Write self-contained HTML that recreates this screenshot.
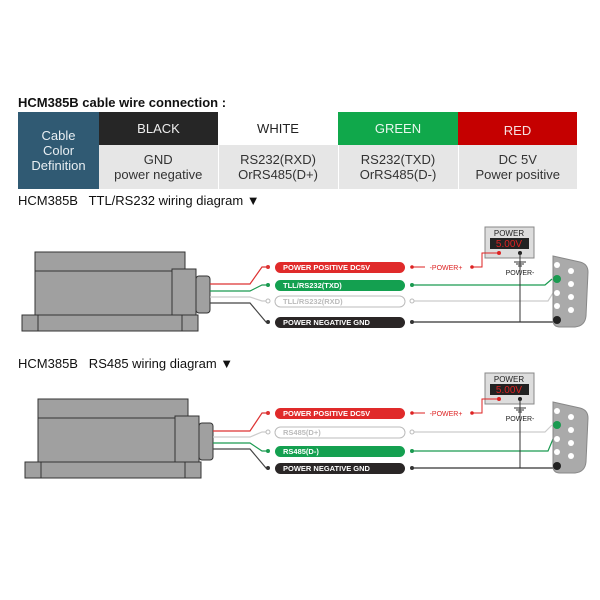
<!DOCTYPE html>
<html><head><meta charset="utf-8"><style>
body{margin:0;width:600px;height:600px;background:#fff;font-family:"Liberation Sans",Arial,sans-serif;position:relative;overflow:hidden}
.t{position:absolute;left:18px;font-size:13px;color:#111}
table{position:absolute;left:18px;top:112px;border-collapse:collapse;width:559px;font-size:13px;text-align:center}
td{padding:0;color:#333;line-height:15px}
</style></head><body>
<div class="t" style="top:95px;font-weight:bold">HCM385B cable wire connection :</div>
<table>
<tr style="height:33px">
<td rowspan="2" style="background:#305a73;color:#e8eef2;width:81px">Cable<br>Color<br>Definition</td>
<td style="background:#262626;color:#eee;width:119px">BLACK</td>
<td style="background:#fff;color:#222;width:120px">WHITE</td>
<td style="background:#10a84b;color:#e9f7ee;width:120px">GREEN</td>
<td style="background:#c50000;color:#f6e0e0;width:119px;padding-top:4px">RED</td></tr>
<tr style="height:44px;background:#e6e6e6">
<td style="border-right:1px solid #fff">GND<br>power negative</td>
<td style="border-right:1px solid #fff">RS232(RXD)<br>OrRS485(D+)</td>
<td style="border-right:1px solid #fff">RS232(TXD)<br>OrRS485(D-)</td>
<td>DC 5V<br>Power positive</td></tr>
</table>
<div class="t" style="top:193px">HCM385B&nbsp;&nbsp; TTL/RS232 wiring diagram ▼</div>
<div class="t" style="top:356px">HCM385B&nbsp;&nbsp; RS485 wiring diagram ▼</div>
<svg width="600" height="600" style="position:absolute;left:0;top:0" font-family="Liberation Sans,Arial,sans-serif">
<defs>
<g id="dev" stroke="#333" stroke-width="1" fill="#a0a0a0">
<rect x="35" y="252" width="150" height="19"/>
<rect x="35" y="271" width="137" height="44"/>
<rect x="172" y="269" width="24" height="46"/>
<rect x="196" y="276" width="14" height="37" rx="3"/>
<rect x="22" y="315" width="176" height="16"/>
<line x1="38" y1="315" x2="38" y2="331"/><line x1="182" y1="315" x2="182" y2="331"/>
</g>
<g id="pwr">
<rect x="485" y="227" width="49" height="31" fill="#ddd" stroke="#888"/>
<text x="509" y="236" font-size="8" text-anchor="middle" fill="#222">POWER</text>
<rect x="490" y="238" width="39" height="11" fill="#222"/>
<text x="509" y="247" font-size="10" text-anchor="middle" fill="#d22">5.00V</text>
<circle cx="520" cy="253" r="2" fill="#222"/><circle cx="499" cy="253" r="2" fill="#d22"/>
<path d="M499 253H482V267H472" stroke="#d22" fill="none"/>
<path d="M514 262h12M516 264h8M518 266h4" stroke="#333"/>
<text x="520" y="275" font-size="7" text-anchor="middle" fill="#222">POWER-</text>
<path d="M520 253V322" stroke="#333"/>
<circle cx="472" cy="267" r="1.8" fill="#d22"/>
<text x="446" y="270" font-size="7" text-anchor="middle" fill="#d22">-POWER+</text>
<path d="M412 267h13" stroke="#d22"/><circle cx="412" cy="267" r="1.8" fill="#d22"/>
<path d="M553 256 L580 262 Q588 264 588 272 L586 316 Q585 326 575 327 L560 327 Q553 327 553 320Z" fill="#aaa" stroke="#888"/>
<g fill="#fff"><circle cx="557" cy="265" r="3"/><circle cx="557" cy="293" r="3"/><circle cx="557" cy="306" r="3"/>
<circle cx="571" cy="271" r="3"/><circle cx="571" cy="284" r="3"/><circle cx="571" cy="297" r="3"/><circle cx="571" cy="310" r="3"/></g>
<circle cx="557" cy="320" r="4" fill="#222"/>
</g>
</defs>
<!-- diagram 1 -->
<use href="#dev"/>
<g fill="none" stroke-width="1.2">
<path d="M210 284H250L262 267H268" stroke="#d33"/>
<path d="M210 291H250L262 285H268" stroke="#1a9a50"/>
<path d="M210 297H250L262 301H268" stroke="#ccc"/>
<path d="M210 303H250L266 322H268" stroke="#444"/>
<path d="M412 285H545L552 279" stroke="#1a9a50"/>
<path d="M412 301H548L553 293" stroke="#ccc"/>
<path d="M412 322H557" stroke="#333"/>
</g>
<use href="#pwr"/>
<circle cx="557" cy="279" r="4" fill="#1a9a50"/>
<g font-size="7.5" font-weight="bold">
<circle cx="268" cy="267" r="2" fill="#d33"/><rect x="275" y="262" width="130" height="11" rx="5.5" fill="#e02a2a"/><text x="283" y="270" fill="#fff">POWER POSITIVE DC5V</text>
<circle cx="268" cy="285" r="2" fill="#1a9a50"/><rect x="275" y="280" width="130" height="11" rx="5.5" fill="#14a050"/><text x="283" y="288" fill="#fff">TLL/RS232(TXD)</text>
<circle cx="268" cy="301" r="2" fill="#fff" stroke="#bbb"/><rect x="275" y="296" width="130" height="11" rx="5.5" fill="#fff" stroke="#bbb"/><text x="283" y="304" fill="#bbb">TLL/RS232(RXD)</text>
<circle cx="268" cy="322" r="2" fill="#333"/><rect x="275" y="317" width="130" height="11" rx="5.5" fill="#2a2626"/><text x="283" y="325" fill="#fff">POWER NEGATIVE GND</text>
<circle cx="412" cy="285" r="2" fill="#1a9a50"/><circle cx="412" cy="301" r="2" fill="#fff" stroke="#bbb"/><circle cx="412" cy="322" r="2" fill="#333"/>
</g>
<!-- diagram 2 -->
<g transform="translate(3,147)"><use href="#dev"/></g>
<g transform="translate(0,146)">
<g fill="none" stroke-width="1.2">
<path d="M213 285H250L262 267H268" stroke="#d33"/>
<path d="M213 291H250L262 286H268" stroke="#ccc"/>
<path d="M213 297H250L262 305H268" stroke="#1a9a50"/>
<path d="M213 303H250L266 322H268" stroke="#444"/>
<path d="M412 286H545L552 279" stroke="#ccc"/>
<path d="M412 305H548L553 293" stroke="#1a9a50"/>
<path d="M412 322H557" stroke="#333"/>
</g>
<use href="#pwr"/>
<circle cx="557" cy="279" r="4" fill="#1a9a50"/>
<g font-size="7.5" font-weight="bold">
<circle cx="268" cy="267" r="2" fill="#d33"/><rect x="275" y="262" width="130" height="11" rx="5.5" fill="#e02a2a"/><text x="283" y="270" fill="#fff">POWER POSITIVE DC5V</text>
<circle cx="268" cy="286" r="2" fill="#fff" stroke="#bbb"/><rect x="275" y="281" width="130" height="11" rx="5.5" fill="#fff" stroke="#bbb"/><text x="283" y="289" fill="#bbb">RS485(D+)</text>
<circle cx="268" cy="305" r="2" fill="#1a9a50"/><rect x="275" y="300" width="130" height="11" rx="5.5" fill="#14a050"/><text x="283" y="308" fill="#fff">RS485(D-)</text>
<circle cx="268" cy="322" r="2" fill="#333"/><rect x="275" y="317" width="130" height="11" rx="5.5" fill="#2a2626"/><text x="283" y="325" fill="#fff">POWER NEGATIVE GND</text>
<circle cx="412" cy="286" r="2" fill="#fff" stroke="#bbb"/><circle cx="412" cy="305" r="2" fill="#1a9a50"/><circle cx="412" cy="322" r="2" fill="#333"/>
</g>
</g>
</svg>
</body></html>
